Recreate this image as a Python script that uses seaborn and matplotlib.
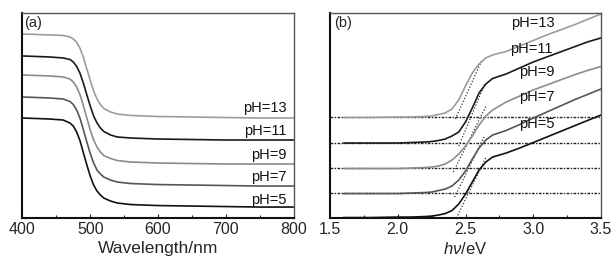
import matplotlib
matplotlib.use('Agg')
import matplotlib.pyplot as plt
import numpy as np
import pandas as pd
import seaborn as sns

# panel (a): absorption spectra (arbitrary units, curves offset)
wavelength = [400, 420, 440, 460, 470, 475, 480, 485, 490, 495, 500, 505, 510,
              515, 520, 530, 540, 560, 600, 650, 700, 750, 800]
abs_ph5 = [1.00, 0.995, 0.99, 0.98, 0.95, 0.92, 0.86, 0.77, 0.65, 0.53, 0.42, 0.33, 0.27,
           0.23, 0.20, 0.17, 0.15, 0.135, 0.125, 0.12, 0.115, 0.11, 0.11]
abs_ph7 = [1.21, 1.205, 1.20, 1.19, 1.165, 1.135, 1.08, 0.995, 0.88, 0.76, 0.645, 0.55, 0.48,
           0.44, 0.41, 0.38, 0.36, 0.345, 0.335, 0.33, 0.325, 0.32, 0.32]
abs_ph9 = [1.43, 1.425, 1.42, 1.41, 1.39, 1.36, 1.31, 1.23, 1.12, 1.00, 0.88, 0.78, 0.71,
           0.66, 0.625, 0.595, 0.575, 0.56, 0.55, 0.545, 0.54, 0.54, 0.54]
abs_ph11 = [1.62, 1.615, 1.61, 1.60, 1.585, 1.56, 1.515, 1.445, 1.345, 1.23, 1.12, 1.02, 0.95,
            0.90, 0.865, 0.83, 0.81, 0.80, 0.79, 0.785, 0.78, 0.78, 0.78]
abs_ph13 = [1.84, 1.835, 1.83, 1.825, 1.81, 1.79, 1.755, 1.695, 1.605, 1.49, 1.375, 1.27, 1.19,
            1.135, 1.095, 1.06, 1.04, 1.025, 1.015, 1.01, 1.005, 1.00, 1.00]

# panel (b): Tauc-type plot vs photon energy
energy = [1.6, 1.8, 2.0, 2.1, 2.2, 2.25, 2.3, 2.35, 2.4, 2.45, 2.5, 2.55, 2.6,
          2.65, 2.7, 2.8, 2.9, 3.0, 3.1, 3.2, 3.3, 3.4, 3.5]
tauc_ph5 = [0.005, 0.005, 0.01, 0.01, 0.015, 0.02, 0.03, 0.045, 0.075, 0.14, 0.24, 0.36, 0.48,
            0.56, 0.61, 0.65, 0.70, 0.755, 0.81, 0.865, 0.92, 0.975, 1.03]
tauc_ph7 = [0.245, 0.245, 0.245, 0.25, 0.255, 0.26, 0.275, 0.29, 0.32, 0.38, 0.47, 0.59, 0.70,
            0.78, 0.83, 0.875, 0.935, 1.00, 1.06, 1.12, 1.18, 1.235, 1.29]
tauc_ph9 = [0.495, 0.495, 0.495, 0.50, 0.505, 0.51, 0.52, 0.54, 0.58, 0.64, 0.72, 0.82, 0.93,
            1.02, 1.08, 1.16, 1.22, 1.28, 1.33, 1.38, 1.43, 1.475, 1.515]
tauc_ph11 = [0.75, 0.75, 0.75, 0.755, 0.76, 0.765, 0.775, 0.79, 0.82, 0.86, 0.96, 1.10, 1.25,
             1.34, 1.395, 1.44, 1.50, 1.56, 1.61, 1.66, 1.71, 1.76, 1.80]
tauc_ph13 = [1.005, 1.005, 1.01, 1.01, 1.015, 1.02, 1.035, 1.05, 1.09, 1.18, 1.32, 1.45, 1.54,
             1.60, 1.63, 1.665, 1.72, 1.775, 1.83, 1.88, 1.93, 1.985, 2.04]

baselines = [1.01, 0.753, 0.497, 0.247]
tangent_x = [(2.425, 2.622), (2.45, 2.645), (2.41, 2.655), (2.42, 2.64), (2.432, 2.654)]
tangent_y = [(0.99, 1.58), (0.72, 1.35), (0.46, 1.13), (0.21, 0.82), (0.00, 0.615)]

labels = ['pH=13', 'pH=11', 'pH=9', 'pH=7', 'pH=5']
colors = ['#9c9c9c', '#1a1a1a', '#8c8c8c', '#555555', '#111111']
label_y_a = [1.10, 0.873, 0.63, 0.413, 0.18]
label_x_b = [2.834, 2.826, 2.893, 2.893, 2.893]
label_y_b = [1.95, 1.69, 1.46, 1.21, 0.94]

sns.set_theme(style='white')
plt.rcParams['font.family'] = ['Liberation Sans', 'DejaVu Sans']
plt.rcParams['mathtext.fontset'] = 'custom'
plt.rcParams['mathtext.it'] = 'Liberation Sans:italic'
plt.rcParams['mathtext.rm'] = 'Liberation Sans'

fig = plt.figure(figsize=(6.16, 2.64), dpi=100)
ax_a = fig.add_axes([0.0365, 0.174, 0.44, 0.777])
ax_b = fig.add_axes([0.5357, 0.174, 0.44, 0.777])

spec_a = [abs_ph13, abs_ph11, abs_ph9, abs_ph7, abs_ph5]
spec_b = [tauc_ph13, tauc_ph11, tauc_ph9, tauc_ph7, tauc_ph5]

for vals, lab, col in zip(spec_a, labels, colors):
    df = pd.DataFrame({'x': wavelength, 'y': vals})
    sns.lineplot(data=df, x='x', y='y', ax=ax_a, color=col, linewidth=1.2,
                 estimator=None, sort=False, legend=False)

for yb in baselines:
    ax_b.axhline(yb, color='#222222', linewidth=1.0, linestyle=(0, (2, 1, 1, 1)), zorder=1)
for tx, ty in zip(tangent_x, tangent_y):
    ax_b.plot(tx, ty, color='#333333', linewidth=0.9, linestyle=(0, (1, 1.5)), zorder=1)

for vals, lab, col in zip(spec_b, labels, colors):
    df = pd.DataFrame({'x': energy, 'y': vals})
    sns.lineplot(data=df, x='x', y='y', ax=ax_b, color=col, linewidth=1.2,
                 estimator=None, sort=False, legend=False, zorder=2)

for lab, yy in zip(labels, label_y_a):
    ax_a.text(790, yy, lab, ha='right', va='center', fontsize=10.5, color='#111111')
for lab, xx, yy in zip(labels, label_x_b, label_y_b):
    ax_b.text(xx, yy, lab, ha='left', va='center', fontsize=10.5, color='#111111')

ax_a.text(403, 1.95, '(a)', ha='left', va='center', fontsize=10.5)
ax_b.text(1.53, 1.95, '(b)', ha='left', va='center', fontsize=10.5)

ax_a.set_xlim(400, 800)
ax_a.set_xticks([400, 500, 600, 700, 800])
ax_a.set_xticks([450, 550, 650, 750], minor=True)
ax_b.set_xlim(1.5, 3.5)
ax_b.set_xticks([1.5, 2.0, 2.5, 3.0, 3.5])
ax_b.set_xticklabels(['1.5', '2.0', '2.5', '3.0', '3.5'])
ax_b.set_xticks([1.75, 2.25, 2.75, 3.25], minor=True)

ax_a.set_xlabel('Wavelength/nm', fontsize=12.5, labelpad=3)
ax_b.set_xlabel(r'$h\nu$/eV', fontsize=12, labelpad=3)

for ax in (ax_a, ax_b):
    ax.set_ylim(0, 2.05)
    ax.set_yticks([])
    ax.set_ylabel('')
    ax.tick_params(axis='x', which='both', direction='in', bottom=True, labelsize=11.5,
                   pad=3, color='#222222')
    ax.tick_params(axis='x', which='major', length=3, width=0.8)
    ax.tick_params(axis='x', which='minor', length=2, width=0.8)
    for side in ('left', 'bottom'):
        ax.spines[side].set_color('#111111')
        ax.spines[side].set_linewidth(1.5)
    for side in ('top', 'right'):
        ax.spines[side].set_color('#555555')
        ax.spines[side].set_linewidth(1.0)

fig.savefig('out.png', dpi=100)
